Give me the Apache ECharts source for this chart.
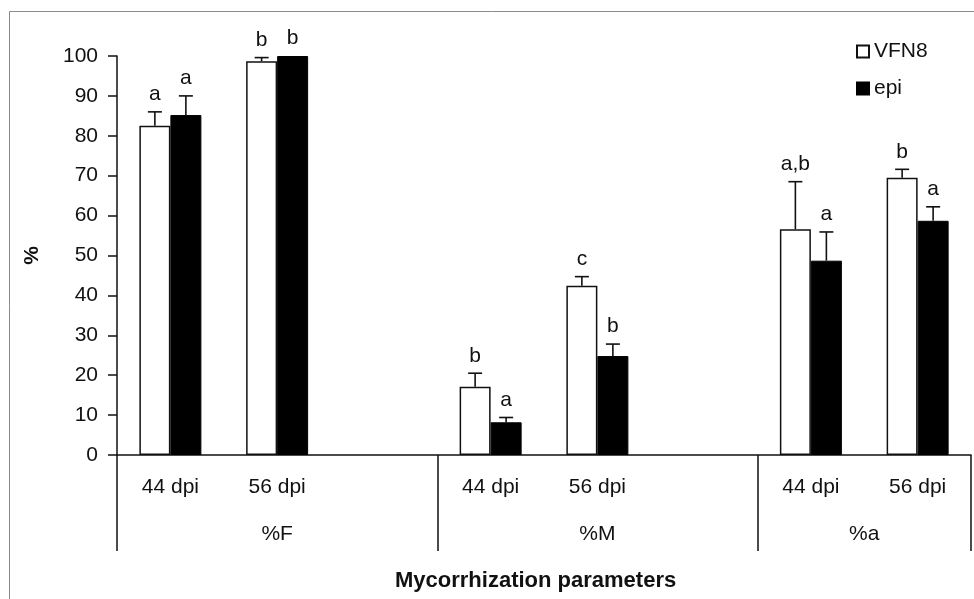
<!DOCTYPE html>
<html>
<head>
<meta charset="utf-8">
<script src="https://cdn.jsdelivr.net/npm/echarts@6/dist/echarts.min.js"></script>
<style>
  html, body { margin: 0; padding: 0; background: #fff; }
  #main { width: 974px; height: 599px; }
</style>
</head>
<body>
<div id="main"></div>
<script>
// sub categories; the empty ones are the gaps between groups
var categories = ['44 dpi', '56 dpi', '', '44 dpi', '56 dpi', '', '44 dpi', '56 dpi'];
var groups = ['%F', '%M', '%a'];
var groupTicks = [0, 3, 6, 8];
var groupCenters = [1.5, 4.5, 7];
var yTicks = [0, 100, 10];

var vfn8 = [82.5, 98.7, null, 17.1, 42.4, null, 56.6, 69.5];
var vfn8Err = [3.5, 0.9, null, 3.4, 2.3, null, 11.9, 2.1];
var vfn8Letters = ['a', 'b', '', 'b', 'c', '', 'a,b', 'b'];

var epi = [85.2, 100, null, 8.2, 24.8, null, 48.7, 58.7];
var epiErr = [4.8, 0, null, 1.2, 3.0, null, 7.2, 3.5];
var epiLetters = ['a', 'b', '', 'a', 'b', '', 'a', 'a'];

var FONT = 'Liberation Sans, Arial, sans-serif';
var FS = 21;
var BAR_W = 31;

function errData(vals, errs) {
  var out = [];
  for (var i = 0; i < vals.length; i++) {
    out.push(vals[i] == null ? [i, '-', '-'] : [i, vals[i], errs[i]]);
  }
  return out;
}

function errRender(shift, letters) {
  return function (params, api) {
    var v = api.value(1);
    if (isNaN(v)) return;
    var e = api.value(2);
    var base = api.coord([api.value(0), v]);
    var top = api.coord([api.value(0), v + e]);
    var cx = base[0] + shift;
    var children = [];
    if (e > 0) {
      children.push({
        type: 'line',
        shape: { x1: cx, y1: base[1], x2: cx, y2: top[1] },
        style: { stroke: '#111', lineWidth: 1.6 }
      });
      children.push({
        type: 'line',
        shape: { x1: cx - 7, y1: top[1], x2: cx + 7, y2: top[1] },
        style: { stroke: '#111', lineWidth: 1.6 }
      });
    }
    children.push({
      type: 'text',
      style: {
        text: letters[params.dataIndex],
        x: cx, y: top[1] - 7,
        align: 'center', verticalAlign: 'bottom',
        fontSize: FS, fontFamily: FONT, fill: '#111'
      }
    });
    return { type: 'group', children: children };
  };
}

var chart = echarts.init(document.getElementById('main'));

var option = {
  animation: false,
  backgroundColor: '#fff',
  textStyle: { fontFamily: FONT },
  graphic: [{
    type: 'rect',
    shape: { x: 9.5, y: 11.5, width: 1200, height: 1000 },
    style: { fill: 'none', stroke: '#8a8a8a', lineWidth: 1 },
    silent: true
  }],
  title: {
    text: 'Mycorrhization parameters',
    left: 390, top: 565,
    textStyle: { fontSize: 22, fontWeight: 'bold', color: '#111', fontFamily: FONT }
  },
  legend: {
    orient: 'vertical',
    left: 851, top: 36,
    itemWidth: 12, itemHeight: 12, itemGap: 16,
    icon: 'rect',
    textStyle: { fontSize: FS, color: '#111', fontFamily: FONT },
    data: ['VFN8', 'epi']
  },
  grid: { left: 117, right: 3, top: 56, bottom: 144 },
  xAxis: [{
    type: 'category',
    data: categories,
    position: 'bottom',
    axisLine: { lineStyle: { color: '#111', width: 1.5 } },
    axisTick: { show: false },
    axisLabel: { interval: 0, margin: 22, fontSize: FS, color: '#111', fontFamily: FONT },
    splitLine: { show: false }
  }, {
    type: 'value',
    position: 'bottom',
    min: 0, max: categories.length,
    axisLine: { show: false },
    splitLine: { show: false },
    axisTick: {
      show: true, length: 96, customValues: groupTicks,
      lineStyle: { color: '#111', width: 1.5 }
    },
    axisLabel: {
      customValues: groupCenters,
      margin: 69, fontSize: FS, color: '#111', fontFamily: FONT,
      formatter: function (val) {
        return groups[groupCenters.indexOf(val)];
      }
    }
  }],
  yAxis: {
    type: 'value',
    min: yTicks[0], max: yTicks[1], interval: yTicks[2],
    name: '%',
    nameLocation: 'middle',
    nameGap: 74,
    nameTextStyle: { fontSize: FS, fontWeight: 'bold', color: '#111', fontFamily: FONT },
    axisLine: { show: true, lineStyle: { color: '#111', width: 1.5 } },
    axisTick: { show: true, length: 9, lineStyle: { color: '#111', width: 1.5 } },
    axisLabel: { margin: 19, fontSize: FS, color: '#111', fontFamily: FONT },
    splitLine: { show: false }
  },
  series: [{
    name: 'VFN8',
    type: 'bar',
    barWidth: BAR_W,
    barGap: 0,
    data: vfn8,
    itemStyle: { color: '#fff', borderColor: '#111', borderWidth: 1.5 }
  }, {
    name: 'epi',
    type: 'bar',
    barWidth: BAR_W,
    barGap: 0,
    data: epi,
    itemStyle: { color: '#000', borderColor: '#000', borderWidth: 1 }
  }, {
    type: 'custom',
    renderItem: errRender(-BAR_W / 2, vfn8Letters),
    data: errData(vfn8, vfn8Err),
    z: 5
  }, {
    type: 'custom',
    renderItem: errRender(BAR_W / 2, epiLetters),
    data: errData(epi, epiErr),
    z: 5
  }]
};

chart.setOption(option);
</script>
</body>
</html>
